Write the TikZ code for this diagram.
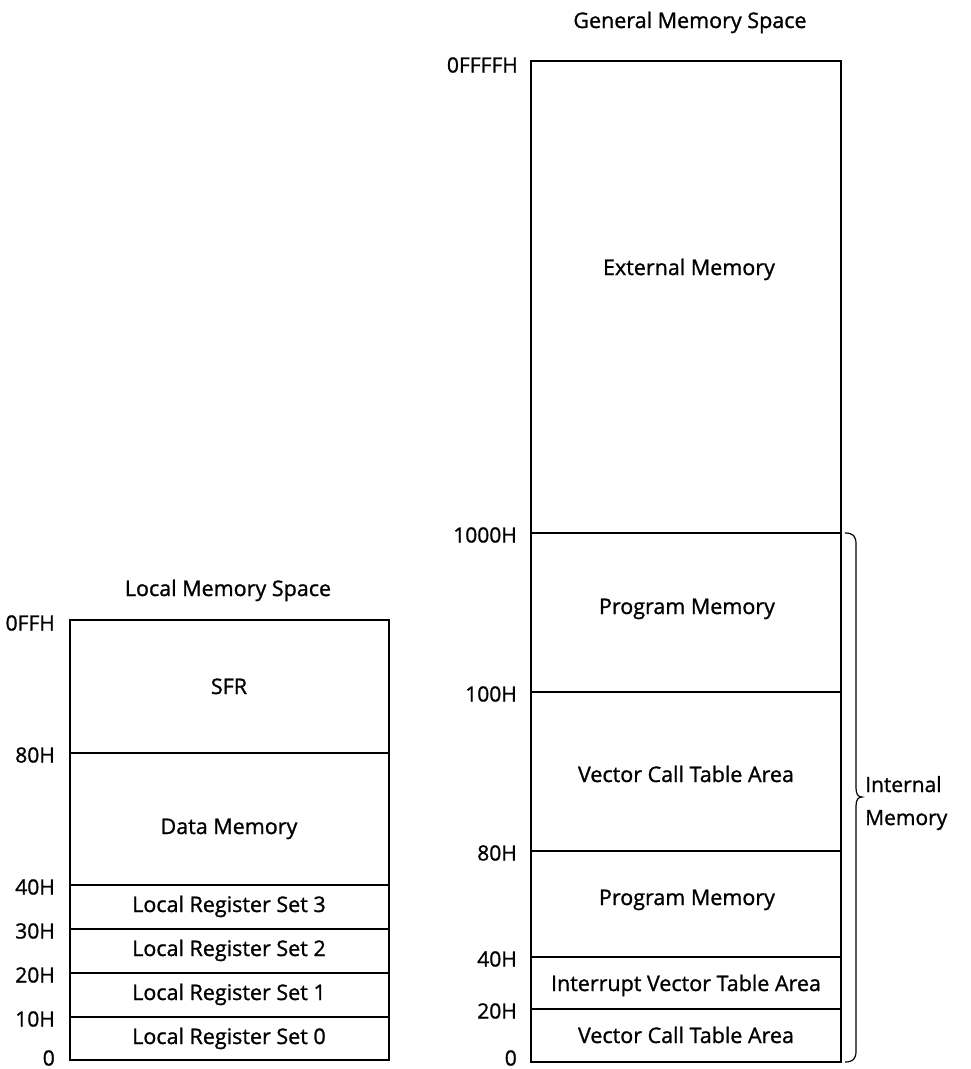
\documentclass[tikz,border=0pt]{standalone}
\usepackage{fontspec}
\setmainfont{Open Sans}[FakeBold=1.1]
\newfontfamily\labfont{Open Sans}[FakeBold=1.1]
\begin{document}
\begin{tikzpicture}[x=1pt,y=-1pt,
  seg/.style={draw, line width=1.4pt, inner sep=0pt, outer sep=0pt, anchor=north west},
  txt/.style={anchor=base, inner sep=0pt, font=\labfont\fontsize{21.5}{24}\selectfont},
  addr/.style={anchor=east, inner sep=0pt, font=\labfont\fontsize{21}{24}\selectfont}]
\useasboundingbox (0,0) rectangle (970,1069);
% Local memory space
\node[txt] (ltitle) at (228,596) {Local Memory Space};
\node[seg, minimum width=319pt, minimum height=133pt] (sfr) at (70,620) {};
\node[seg, minimum width=319pt, minimum height=132pt] (dmem) at (70,753) {};
\node[seg, minimum width=319pt, minimum height=44pt] (lr3) at (70,885) {};
\node[seg, minimum width=319pt, minimum height=44pt] (lr2) at (70,929) {};
\node[seg, minimum width=319pt, minimum height=44pt] (lr1) at (70,973) {};
\node[seg, minimum width=319pt, minimum height=43pt] (lr0) at (70,1017) {};
\node[txt] (tsfr) at (229,694) {SFR};
\node[txt] (tdmem) at (229,834) {Data Memory};
\node[txt] (tlr3) at (229,912) {Local Register Set 3};
\node[txt] (tlr2) at (229,956) {Local Register Set 2};
\node[txt] (tlr1) at (229,1000) {Local Register Set 1};
\node[txt] (tlr0) at (229,1044) {Local Register Set 0};
\node[addr] (a0ffh) at (55,623) {0FFH};
\node[addr] (a80h) at (55,755) {80H};
\node[addr] (a40h) at (55,887) {40H};
\node[addr] (a30h) at (55,931) {30H};
\node[addr] (a20h) at (55,975) {20H};
\node[addr] (a10h) at (55,1019) {10H};
\node[addr] (a0) at (55,1058) {0};
% General memory space
\node[txt] (gtitle) at (690,28) {General Memory Space};
\node[seg, minimum width=310pt, minimum height=472pt] (ext) at (531,61) {};
\node[seg, minimum width=310pt, minimum height=159pt] (pm1) at (531,533) {};
\node[seg, minimum width=310pt, minimum height=159pt] (vct1) at (531,692) {};
\node[seg, minimum width=310pt, minimum height=106pt] (pm2) at (531,851) {};
\node[seg, minimum width=310pt, minimum height=52pt] (ivt) at (531,957) {};
\node[seg, minimum width=310pt, minimum height=53pt] (vct2) at (531,1009) {};
\node[txt] (text) at (689,275) {External Memory};
\node[txt] (tpm1) at (687,614) {Program Memory};
\node[txt] (tvct1) at (686,782) {Vector Call Table Area};
\node[txt] (tpm2) at (687,905) {Program Memory};
\node[txt] (tivt) at (686,991) {Interrupt Vector Table Area};
\node[txt] (tvct2) at (686,1043) {Vector Call Table Area};
\node[addr] (g0ffffh) at (518,65) {0FFFFH};
\node[addr] (g1000h) at (517,535) {1000H};
\node[addr] (g100h) at (517,694) {100H};
\node[addr] (g80h) at (517,853) {80H};
\node[addr] (g40h) at (517,959) {40H};
\node[addr] (g20h) at (517,1011) {20H};
\node[addr] (g0) at (517,1058) {0};
% brace
\coordinate (btop) at (845,533);
\coordinate (bbot) at (845,1062);
\coordinate (btip) at (862,797);
\draw[line width=1.2pt] (btop) .. controls (853,533) and (856,536) .. (856,544)
  -- (856,788) .. controls (856,794) and (858,797) .. (btip)
  .. controls (858,797) and (856,800) .. (856,806)
  -- (856,1051) .. controls (856,1059) and (853,1062) .. (bbot);
\node[anchor=base west, inner sep=0pt, font=\labfont\fontsize{21}{24}\selectfont] (tint) at (865,792) {Internal};
\node[anchor=base west, inner sep=0pt, font=\labfont\fontsize{21}{24}\selectfont] (tmem) at (865,825) {Memory};
\end{tikzpicture}
\end{document}
